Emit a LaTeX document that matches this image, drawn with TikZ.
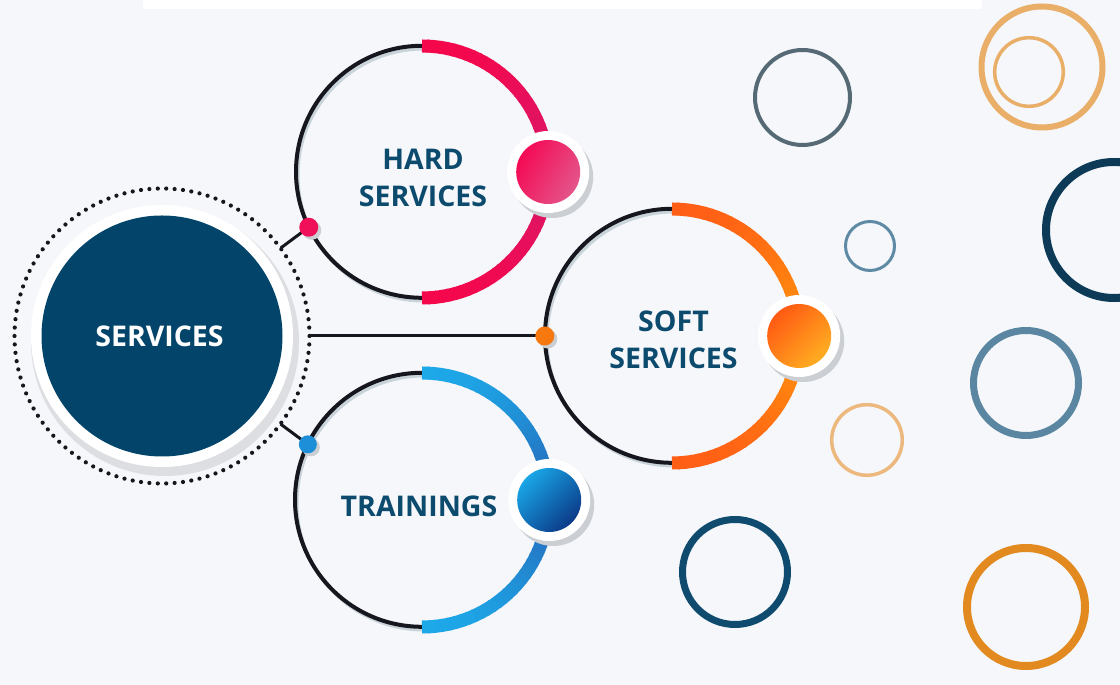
\documentclass[tikz,border=0pt]{standalone}
\usepackage{fontspec}
\setmainfont{Open Sans}
\usetikzlibrary{calc}
\definecolor{bg}{HTML}{F5F7FA}
\definecolor{navy}{HTML}{03456A}
\definecolor{txt}{HTML}{0C4A6E}
\definecolor{blk}{HTML}{16161F}
\definecolor{shd}{HTML}{C9D3DA}
\definecolor{dshd}{HTML}{CBCED2}
\definecolor{pinkEnd}{HTML}{F5074C}
\definecolor{pinkMid}{HTML}{D51A6E}
\definecolor{orEnd}{HTML}{FF5E16}
\definecolor{orMid}{HTML}{FF9A0A}
\definecolor{blEnd}{HTML}{1DA8E8}
\definecolor{blMid}{HTML}{2860B4}
\definecolor{pinkA}{HTML}{F40A55}
\definecolor{pinkB}{HTML}{E4558A}
\definecolor{orA}{HTML}{FF5A12}
\definecolor{orB}{HTML}{FFAE22}
\definecolor{blA}{HTML}{18A6E6}
\definecolor{blB}{HTML}{0C3A88}
\definecolor{pinkDot}{HTML}{F0105A}
\definecolor{orDot}{HTML}{F7780F}
\definecolor{blDot}{HTML}{1C8FD8}
\definecolor{rA}{HTML}{566A76}
\definecolor{rB}{HTML}{5F8AA6}
\definecolor{rOr}{HTML}{E9AE68}
\definecolor{rDark}{HTML}{0D3A56}
\definecolor{rC}{HTML}{EDB87E}
\definecolor{rD}{HTML}{5A86A2}
\definecolor{rE}{HTML}{0F4A6F}
\definecolor{rF}{HTML}{E28A20}
\newcommand\gradarc[5]{%
  \foreach \a in {-90,-87,...,87}{%
    \pgfmathsetmacro\ee{min(\a+3.6,90)}%
    \pgfmathsetmacro\pp{abs(sin(\a+1.5))*100}%
    \draw[line width=#5, color=#3!\pp!#4] (#1.center) ++(\a:#2) arc[start angle=\a, end angle=\ee, radius=#2];
  }}
\begin{document}
\begin{tikzpicture}[x=1pt,y=1pt,
  ringnode/.style={circle, minimum size=254pt, inner sep=0pt, draw=none},
  blackarc/.style={draw=blk, line width=4pt},
  arcshadow/.style={draw=shd, line width=3pt},
  conn/.style={draw=blk, line width=3pt},
  smalldot/.style={circle, minimum size=19pt, inner sep=0pt, fill=#1},
  bigdot/.style={circle, minimum size=82pt, inner sep=0pt, fill=white},
  label/.style={font=\fontsize{28.5}{37}\selectfont\bfseries, text=txt, align=center, inner sep=0pt}
]
\useasboundingbox (0,0) rectangle (1120,685);
\fill[bg] (0,0) rectangle (1120,685);
\fill[white] (143,676) rectangle (982,685);

% decorative rings
\draw[rA, line width=4pt] (802.5,587.5) circle (47.5);
\draw[rB, line width=3pt] (870,439) circle (24.5);
\draw[rOr, line width=6pt] (1042,618) circle (60.5);
\draw[rOr, line width=3.5pt] (1029,613) circle (34.3);
\draw[rDark, line width=8pt] (1114,455) circle (68);
\draw[rC, line width=3.5pt] (867,245) circle (35.3);
\draw[rD, line width=7pt] (1026,302) circle (52.5);
\draw[rE, line width=7pt] (735,113) circle (52.5);
\draw[rF, line width=8pt] (1026,78) circle (59);

% main node geometry
\node[circle, minimum size=295pt, inner sep=0pt] (ring) at (162,349) {};
\node[ringnode, minimum size=252pt] (hard) at (422,513) {};
\node[ringnode] (soft) at (672,349) {};
\node[ringnode] (train) at (422,185) {};

% dotted ring
\foreach \i in {0,...,109}{\fill[blk] (ring.center) ++(\i*3.272727:147.5) circle (2.1);}

% shadow + white disk for SERVICES
\fill[dshd!60!bg] (165,343) circle (134);
\fill[white] (162,349) circle (131);

% small dots positions
\coordinate (hdotc) at ($(hard.center)+(206:126)$);
\coordinate (tdotc) at ($(train.center)+(154:127)$);
\coordinate (sdotc) at (soft.west);

% connectors
\draw[conn] (ring) -- (hdotc);
\draw[conn] (ring) -- (sdotc);
\draw[conn] (ring) -- (tdotc);

% arc shadows
\draw[arcshadow] ($(hard.center)+(2,-3)$) ++(90:126) arc[start angle=90, end angle=270, radius=126];
\draw[arcshadow] ($(soft.center)+(2,-3)$) ++(90:127) arc[start angle=90, end angle=270, radius=127];
\draw[arcshadow] ($(train.center)+(2,-3)$) ++(90:127) arc[start angle=90, end angle=270, radius=127];

% black arcs
\draw[blackarc] (hard.north) arc[start angle=90, end angle=270, radius=126];
\draw[blackarc] (soft.north) arc[start angle=90, end angle=270, radius=127];
\draw[blackarc] (train.north) arc[start angle=90, end angle=270, radius=127];

% coloured arcs
\gradarc{hard}{126}{pinkEnd}{pinkMid}{13pt}
\gradarc{soft}{127}{orEnd}{orMid}{13pt}
\gradarc{train}{127}{blEnd}{blMid}{13pt}

% small dots
\fill[dshd] ($(hdotc)+(3,-3)$) circle (9.5);
\fill[dshd] ($(sdotc)+(3,-3)$) circle (9.5);
\fill[dshd] ($(tdotc)+(3,-3)$) circle (9);
\node[smalldot=pinkDot] (hdot) at (hdotc) {};
\node[smalldot=orDot] (sdot) at (sdotc) {};
\node[smalldot=blDot, minimum size=18pt] (tdot) at (tdotc) {};

% big dots
\fill[dshd] ($(hard.east)+(4,-5)$) circle (41);
\fill[dshd] ($(soft.east)+(4,-5)$) circle (41);
\fill[dshd] ($(train.east)+(4,-5)$) circle (41);
\node[bigdot] (hbig) at (hard.east) {};
\node[bigdot] (sbig) at (soft.east) {};
\node[bigdot] (tbig) at (train.east) {};
\shade[top color=pinkA, bottom color=pinkB, shading angle=60] (hbig.center) circle (32);
\shade[top color=orA, bottom color=orB, shading angle=45] (sbig.center) circle (32);
\shade[top color=blA, bottom color=blB, shading angle=45] (tbig.center) circle (32);

% SERVICES
\node[circle, minimum size=241pt, inner sep=0pt, fill=navy, text=white,
      font=\fontsize{28.5}{37}\selectfont\bfseries] (services) at (162,349) {\hspace*{-5pt}SERVICES};

% labels
\node[label] (hardlbl) at (423,507.5) {HARD\\SERVICES};
\node[label] (softlbl) at (673.5,345.5) {SOFT\\SERVICES};
\node[label] (trainlbl) at (419,179) {TRAININGS};
\end{tikzpicture}
\end{document}
